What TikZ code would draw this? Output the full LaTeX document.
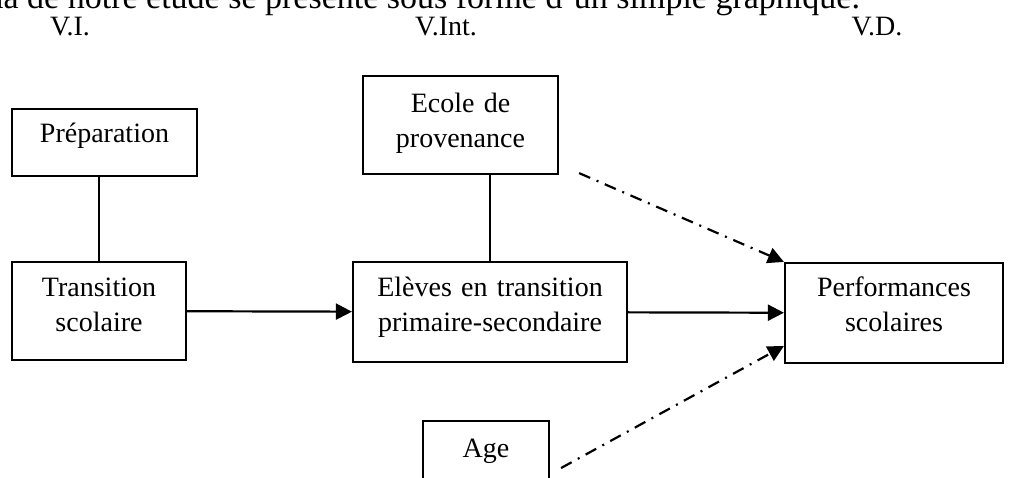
\documentclass[tikz,border=0pt]{standalone}
\usepackage{fontspec}
\setmainfont{Liberation Serif}
\usetikzlibrary{matrix}
\usetikzlibrary{arrows.meta}

\begin{document}
\begin{tikzpicture}[
    every node/.style={font=\fontsize{14}{17.5}\selectfont},
    box/.style={draw, line width=1.1pt, inner sep=0pt, align=center, anchor=base},
    dashdot/.style={line width=1.1pt, dash pattern=on 6pt off 3.5pt on 1pt off 3.5pt},
  ]
  \useasboundingbox (0,0) rectangle (507.5pt,-238.5pt);
  \node[anchor=base east, font=\fontsize{17}{20}\selectfont] (titre) at (433.5pt,-4pt)
    {Le schéma de notre étude se présente sous forme d'un simple graphique.};
  \node[anchor=base] (vi) at (35pt,-17.5pt) {V.I.};
  \node[anchor=base] (vint) at (223pt,-17.5pt) {V.Int.};
  \node[anchor=base] (vd) at (438.5pt,-17.5pt) {V.D.};
  \matrix (m) [matrix of nodes, nodes={box},
    row sep={92pt,between origins}, column sep={195.5pt,between origins},
    anchor=m-2-1.base] at (49.5pt,-148pt)
  {
     |[text width=92.5pt,text height=16.5pt,text depth=17pt,xshift=2.75pt,yshift=-15pt]| Préparation
       & |[text width=97.5pt,text height=18pt,text depth=31pt,xshift=-14.75pt]| Ecole de\par provenance & \\
     |[text width=87pt,text height=17pt,text depth=32pt]| Transition\par scolaire
       & |[text width=137pt,text height=17pt,text depth=33pt]| Elèves en transition\par primaire-secondaire
       & |[text width=109pt,text height=16.5pt,text depth=33.5pt,xshift=6.5pt]| Performances\par scolaires \\
     & |[text width=63pt,text height=18pt,text depth=15.5pt,xshift=-2pt,yshift=11.5pt]| Age & \\
  };
  \draw[line width=1.1pt] (m-2-1.north) -- (m-2-1.north |- m-1-1.south);
  \draw[line width=1.1pt] (m-2-2.north) -- (m-2-2.north |- m-1-2.south);
  \path[-{Triangle[length=8pt,width=8pt]}, line width=1.1pt]
    (m-2-1) edge (m-2-2)
    (m-2-2) edge (m-2-3);
  \coordinate (ecole-out) at ([xshift=10pt,yshift=1pt]m-1-2.south east);
  \coordinate (age-out) at ([xshift=5.5pt,yshift=-6.75pt]m-3-2.east);
  \coordinate (perf-in) at ([yshift=-16.5pt]m-2-3.west);
  \draw[dashdot, -{Triangle[length=8pt,width=8pt]}] (ecole-out) -- (m-2-3.north west);
  \draw[dashdot, -{Triangle[length=8pt,width=8pt]}] (age-out) -- (perf-in);
\end{tikzpicture}
\end{document}
